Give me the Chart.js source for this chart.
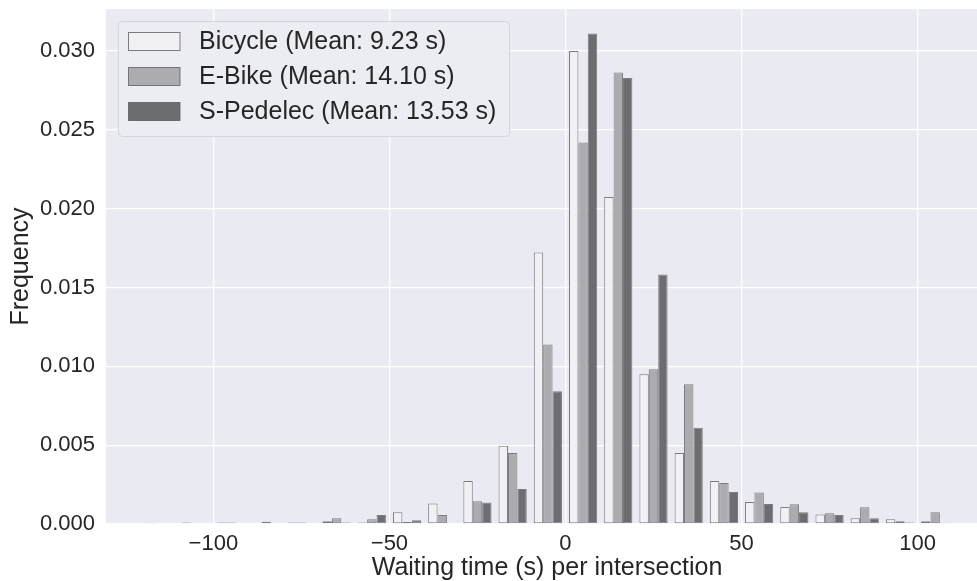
<!DOCTYPE html>
<html>
<head>
<meta charset="utf-8">
<script src="https://cdn.jsdelivr.net/npm/chart.js@4.4.1/dist/chart.umd.min.js"></script>
<style>
  html, body { margin: 0; padding: 0; background: #fff; overflow: hidden; }
  #wrap { width: 988px; height: 581px; }
</style>
</head>
<body>
<div id="wrap"><canvas id="chart" width="988" height="581"></canvas></div>
<script>
// bin centres (10 s bins from -120 to 110)
const binCenters = [-115, -105, -95, -85, -75, -65, -55, -45, -35, -25, -15, -5, 5, 15, 25, 35, 45, 55, 65, 75, 85, 95, 105];

const bicycle = [0.00006, 0.0001, 0.0001, 0.00005, 0.0001, 0.00017, 0.0001, 0.00074, 0.0013, 0.00272, 0.00497, 0.01722,
                 0.0300, 0.02074, 0.00949, 0.00451, 0.00272, 0.00139, 0.00108, 0.00061, 0.00036, 0.0003, 0.00017];
const eBike   = [0, 0, 0.0001, 0.00015, 0.0001, 0.00036, 0.0003, 0.00013, 0.00057, 0.00144, 0.0045, 0.01139,
                 0.0242, 0.02863, 0.00981, 0.00886, 0.0026, 0.002, 0.00125, 0.00068, 0.00106, 0.00017, 0.00074];
const sPedelec = [0, 0, 0, 0, 0.00005, 0.0001, 0.00057, 0.00023, 0, 0.00137, 0.00222, 0.00842,
                  0.0311, 0.02829, 0.01582, 0.0061, 0.00203, 0.00127, 0.00074, 0.00057, 0.00036, 0.0001, 0.00003];

const seriesLabels = ['Bicycle (Mean: 9.23 s)', 'E-Bike (Mean: 14.10 s)', 'S-Pedelec (Mean: 13.53 s)'];
const xTicks = [-100, -50, 0, 50, 100];
const yTicks = [0, 0.005, 0.010, 0.015, 0.020, 0.025, 0.030];

const fills = ['#f1f1f5', '#acacb0', '#6d6d71'];
const edge = 'rgba(85,85,90,0.75)';
const FONT = 'Arial, "Liberation Sans", sans-serif';

function toPoints(vals) {
    return vals.map((v, i) => ({ x: binCenters[i], y: v }));
}

const plotBg = {
    id: 'plotBg',
    beforeDraw(chart) {
        const { ctx, chartArea: a } = chart;
        ctx.save();
        ctx.fillStyle = '#eaeaf2';
        ctx.fillRect(a.left, a.top, a.right - a.left, a.bottom - a.top);
        ctx.restore();
    }
};

// matplotlib style legend box inside the axes
const boxLegend = {
    id: 'boxLegend',
    afterDatasetsDraw(chart) {
        const ctx = chart.ctx;
        const x = 118.5, y = 21.5, w = 391, h = 115, r = 4;
        ctx.save();
        ctx.beginPath();
        ctx.roundRect(x, y, w, h, r);
        ctx.fillStyle = 'rgba(235,235,243,0.96)';
        ctx.fill();
        ctx.strokeStyle = '#d4d4d9';
        ctx.lineWidth = 1;
        ctx.stroke();
        ctx.font = '25px ' + FONT;
        ctx.textBaseline = 'middle';
        ctx.textAlign = 'left';
        chart.data.datasets.forEach((ds, i) => {
            const cy = 41.5 + i * 35;
            ctx.fillStyle = ds.backgroundColor;
            ctx.fillRect(128.5, cy - 9, 51.5, 18);
            ctx.strokeStyle = edge;
            ctx.strokeRect(128.5, cy - 9, 51.5, 18);
            ctx.fillStyle = '#262626';
            ctx.fillText(ds.label, 199, cy + 1);
        });
        ctx.restore();
    }
};

new Chart(document.getElementById('chart'), {
    type: 'bar',
    data: {
        datasets: [
            { label: seriesLabels[0], data: toPoints(bicycle), backgroundColor: fills[0] },
            { label: seriesLabels[1], data: toPoints(eBike), backgroundColor: fills[1] },
            { label: seriesLabels[2], data: toPoints(sPedelec), backgroundColor: fills[2] }
        ]
    },
    options: {
        responsive: false,
        animation: false,
        layout: { padding: { top: 9, right: 0, left: 0, bottom: 0 } },
        datasets: {
            bar: {
                categoryPercentage: 0.8,
                barPercentage: 1.0,
                borderColor: edge,
                borderWidth: 1,
                borderSkipped: false
            }
        },
        plugins: {
            legend: { display: false },
            tooltip: { enabled: false }
        },
        scales: {
            x: {
                type: 'linear',
                min: -130.5,
                max: 120,
                offset: false,
                afterBuildTicks: (s) => { s.ticks = xTicks.map(v => ({ value: v })); },
                afterFit: (s) => { s.height = 57; s.paddingLeft = 0; s.paddingRight = 0; },
                grid: { color: '#ffffff', lineWidth: 1.3, drawTicks: false, offset: false },
                border: { display: false },
                ticks: {
                    padding: 7,
                    color: '#262626',
                    font: { family: FONT, size: 22 },
                    callback: (v) => String(v).replace('-', '\u2212')
                },
                title: {
                    display: true,
                    text: 'Waiting time (s) per intersection',
                    color: '#262626',
                    font: { family: FONT, size: 25, lineHeight: 1 },
                    padding: { top: 0, bottom: 0 }
                }
            },
            y: {
                min: 0,
                max: 0.03266,
                afterBuildTicks: (s) => { s.ticks = yTicks.map(v => ({ value: v })); },
                afterFit: (s) => { s.width = 106; s.paddingTop = 0; s.paddingBottom = 0; },
                grid: { color: '#ffffff', lineWidth: 1.3, drawTicks: false },
                border: { display: false },
                ticks: {
                    padding: 11,
                    color: '#262626',
                    font: { family: FONT, size: 22 },
                    callback: (v) => v.toFixed(3)
                },
                title: {
                    display: true,
                    text: 'Frequency',
                    color: '#262626',
                    font: { family: FONT, size: 25, lineHeight: 1 },
                    padding: { top: 9, bottom: 0 }
                }
            }
        }
    },
    plugins: [plotBg, boxLegend]
});
</script>
</body>
</html>
